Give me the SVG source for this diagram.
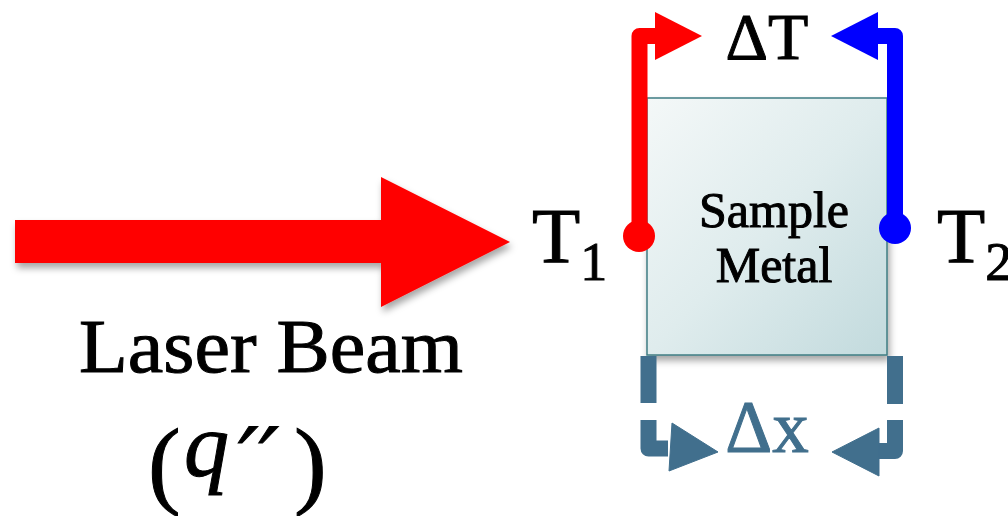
<svg xmlns="http://www.w3.org/2000/svg" width="1008" height="516" viewBox="0 0 1008 516">
  <style>
    .serif { font-family: "Liberation Serif", "DejaVu Serif", serif; fill: #000; stroke: #000; stroke-width: 1; }
    .math { font-family: "Liberation Serif", serif; font-style: italic; }
    .prime { font-family: "DejaVu Serif", "Liberation Serif", serif; font-style: italic; }
    .steel { fill: #416f8d; stroke: #416f8d; }
    .steel-line { fill: none; stroke: #416f8d; stroke-width: 16; stroke-linejoin: round; }
    .red-line { fill: none; stroke: #ff0000; stroke-width: 16; stroke-linejoin: round; }
    .blue-line { fill: none; stroke: #0000ff; stroke-width: 16; stroke-linejoin: round; }
  </style>
  <defs>
    <linearGradient id="metalFill" x1="0" y1="0" x2="1" y2="1">
      <stop offset="0" stop-color="#f4f8f8"/>
      <stop offset="0.5" stop-color="#dfeced"/>
      <stop offset="1" stop-color="#c2dadd"/>
    </linearGradient>
    <filter id="softShadow" x="-10%" y="-10%" width="130%" height="140%">
      <feDropShadow dx="2" dy="5" stdDeviation="3.5" flood-color="#000" flood-opacity="0.35"/>
    </filter>
  </defs>

  <rect width="1008" height="516" fill="#fff"/>

  <!-- incoming laser beam -->
  <g id="laser-beam">
    <polygon points="15,220 381,220 381,177 510,242 381,307 381,263 15,263" fill="#ff0000" filter="url(#softShadow)"/>
    <text class="serif" x="271" y="372" font-size="77" text-anchor="middle" textLength="384" lengthAdjust="spacingAndGlyphs">Laser Beam</text>
    <text class="serif" y="476" font-size="90" stroke-width="0.6">
      <tspan x="148" font-size="98" y="496">(</tspan><tspan class="math" x="184" y="476">q</tspan><tspan class="prime" x="238" y="492" font-size="90">′′</tspan><tspan x="294" font-size="98" y="496">)</tspan>
    </text>
  </g>

  <!-- sample block -->
  <g id="sample-metal">
    <rect x="647" y="98" width="240" height="257" fill="url(#metalFill)" stroke="#3f7c82" stroke-width="1.5" filter="url(#softShadow)"/>
    <text class="serif" x="774" y="227" font-size="50" text-anchor="middle">Sample</text>
    <text class="serif" x="774" y="282" font-size="50" text-anchor="middle">Metal</text>
  </g>

  <!-- temperature labels -->
  <g id="t1">
    <text class="serif" x="532" y="262" font-size="79">T<tspan font-size="54" dy="18">1</tspan></text>
  </g>
  <g id="t2">
    <text class="serif" x="937" y="262" font-size="79">T<tspan font-size="54" dy="18">2</tspan></text>
  </g>
  <g id="delta-t">
    <text class="serif" x="767" y="59" font-size="66" text-anchor="middle">ΔT</text>
  </g>
  <g id="delta-x">
    <text class="serif steel" x="767" y="452" font-size="73" text-anchor="middle">Δx</text>
  </g>

  <!-- probes and dimension brackets -->
  <g id="connectors">
    <!-- hot side probe -->
    <path class="red-line" d="M639.5,236 V36 H660"/>
    <polygon points="655,12 702,36 655,60" fill="#ff0000"/>
    <circle cx="639" cy="236" r="16" fill="#ff0000"/>

    <!-- cold side probe -->
    <path class="blue-line" d="M895,228 V36 H873"/>
    <polygon points="878,12 831,36 878,60" fill="#0000ff"/>
    <circle cx="895" cy="228" r="16" fill="#0000ff"/>

    <!-- thickness bracket -->
    <path class="steel-line" d="M648.5,356 V403"/>
    <path class="steel-line" d="M648.5,420 V448.5 H668"/>
    <polygon class="steel" points="672,423 718,452 669,471" stroke="none"/>

    <path class="steel-line" d="M895,356 V404"/>
    <path class="steel-line" d="M895,420 V451 H876"/>
    <polygon class="steel" points="879,428 832,452 879,476" stroke="none"/>
  </g>
</svg>
